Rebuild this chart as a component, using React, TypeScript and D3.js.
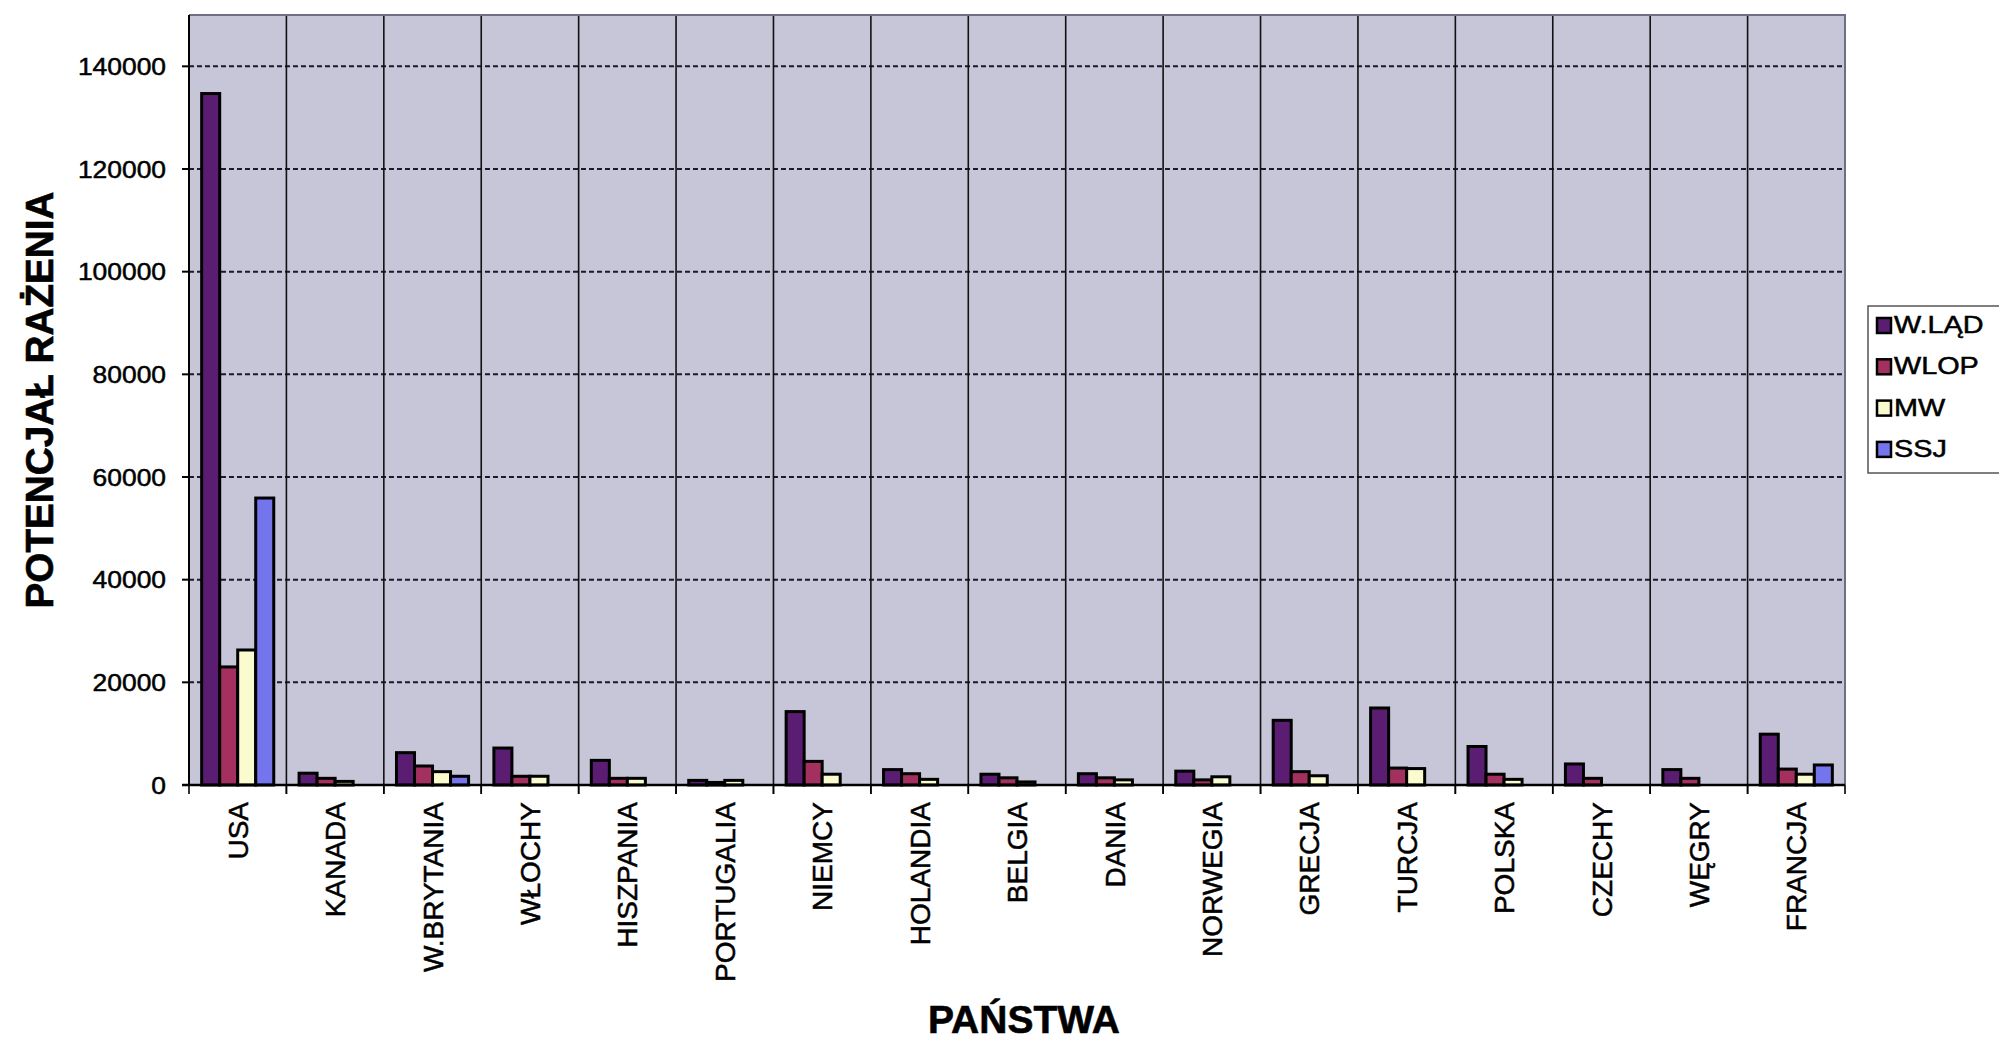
import * as d3 from "d3";
import { useEffect, useRef } from "react";

const countries = [
  "USA",
  "KANADA",
  "W.BRYTANIA",
  "WŁOCHY",
  "HISZPANIA",
  "PORTUGALIA",
  "NIEMCY",
  "HOLANDIA",
  "BELGIA",
  "DANIA",
  "NORWEGIA",
  "GRECJA",
  "TURCJA",
  "POLSKA",
  "CZECHY",
  "WĘGRY",
  "FRANCJA",
];

const seriesNames = ["W.LĄD", "WLOP", "MW", "SSJ"];

const wLad = [134700, 2300, 6300, 7200, 4800, 900, 14300, 3000, 2100, 2200, 2700, 12600, 15000, 7500, 4100, 3000, 9900];
const wlop = [23000, 1300, 3700, 1700, 1300, 500, 4600, 2200, 1400, 1400, 1000, 2600, 3300, 2100, 1300, 1300, 3100];
const mw = [26300, 700, 2600, 1700, 1300, 900, 2100, 1100, 600, 1000, 1600, 1800, 3200, 1100, 0, 0, 2100];
const ssj = [55900, 0, 1700, 0, 0, 0, 0, 0, 0, 0, 0, 0, 0, 0, 0, 0, 3900];

const yTicks = [0, 20000, 40000, 60000, 80000, 100000, 120000, 140000];

const colors = ["#5a1d72", "#a3305e", "#fbfbd0", "#7474ec"];

const App = () => {
  const svgRef = useRef<SVGSVGElement>(null);

  useEffect(() => {
    const svg = d3.select(svgRef.current);
    svg.selectAll("*").remove();

    const W = 1999;
    const H = 1040;
    const left = 189;
    const right = 1845;
    const top = 15;
    const bottom = 785;
    const font = "'Liberation Sans', Arial, sans-serif";
    const narrow = "'Liberation Sans Narrow', 'Liberation Sans', Arial, sans-serif";

    svg.attr("width", W).attr("height", H);
    svg.append("rect").attr("width", W).attr("height", H).attr("fill", "#fff");

    const values = [wLad, wlop, mw, ssj];
    const rows = countries.map((c, i) => ({
      country: c,
      vals: seriesNames.map((s, j) => ({ key: s, value: values[j][i], color: colors[j] })),
    }));

    const x0 = d3.scaleBand().domain(countries).range([left, right]).padding(0);
    const bw = x0.bandwidth();
    const off = bw * 0.13;
    const x1 = d3.scaleBand().domain(seriesNames).range([off, bw - off]).padding(0);
    const y = d3.scaleLinear().domain([0, 150000]).range([bottom, top]);

    // plot background
    svg
      .append("rect")
      .attr("x", left)
      .attr("y", top)
      .attr("width", right - left)
      .attr("height", bottom - top)
      .attr("fill", "#c6c6d8");

    // horizontal dashed grid
    svg
      .append("g")
      .selectAll("line")
      .data(yTicks.filter((d) => d > 0))
      .enter()
      .append("line")
      .attr("x1", left)
      .attr("x2", right)
      .attr("y1", (d) => y(d))
      .attr("y2", (d) => y(d))
      .attr("stroke", "#1a1a2a")
      .attr("stroke-width", 2)
      .attr("stroke-dasharray", "5,3");

    // vertical category lines
    svg
      .append("g")
      .selectAll("line")
      .data(countries.slice(1))
      .enter()
      .append("line")
      .attr("x1", (d) => x0(d)!)
      .attr("x2", (d) => x0(d)!)
      .attr("y1", top)
      .attr("y2", bottom + 9)
      .attr("stroke", "#111")
      .attr("stroke-width", 1.6);

    // plot border (top/right)
    svg
      .append("path")
      .attr("d", `M${left},${top}H${right}V${bottom}`)
      .attr("fill", "none")
      .attr("stroke", "#6e6e84")
      .attr("stroke-width", 2);

    // bars
    const groups = svg
      .append("g")
      .selectAll("g")
      .data(rows)
      .enter()
      .append("g")
      .attr("transform", (d) => `translate(${x0(d.country)},0)`);

    groups
      .selectAll("rect")
      .data((d) => d.vals.filter((v) => v.value > 0))
      .enter()
      .append("rect")
      .attr("x", (d) => x1(d.key)!)
      .attr("y", (d) => y(d.value))
      .attr("width", x1.bandwidth())
      .attr("height", (d) => bottom - y(d.value))
      .attr("fill", (d) => d.color)
      .attr("stroke", "#000")
      .attr("stroke-width", 3);

    // axes lines
    svg
      .append("line")
      .attr("x1", left)
      .attr("x2", left)
      .attr("y1", top)
      .attr("y2", bottom)
      .attr("stroke", "#000")
      .attr("stroke-width", 2);
    svg
      .append("line")
      .attr("x1", left - 7)
      .attr("x2", right)
      .attr("y1", bottom)
      .attr("y2", bottom)
      .attr("stroke", "#000")
      .attr("stroke-width", 2.5);

    // y ticks
    const yt = svg.append("g");
    yt.selectAll("line")
      .data(yTicks)
      .enter()
      .append("line")
      .attr("x1", left - 7)
      .attr("x2", left)
      .attr("y1", (d) => y(d))
      .attr("y2", (d) => y(d))
      .attr("stroke", "#000")
      .attr("stroke-width", 2);
    yt.selectAll("text")
      .data(yTicks)
      .enter()
      .append("text")
      .attr("transform", (d) => `translate(166,${y(d)}) scale(1.1,1)`)
      .attr("dy", "0.36em")
      .attr("text-anchor", "end")
      .attr("font-family", font)
      .attr("font-size", 24)
      .attr("fill", "#000")
      .attr("stroke", "#000")
      .attr("stroke-width", 0.5)
      .text((d) => String(d));

    // x ticks at band edges
    svg
      .append("g")
      .selectAll("line")
      .data([left, ...countries.slice(1).map((c) => x0(c)!), right])
      .enter()
      .append("line")
      .attr("x1", (d) => d)
      .attr("x2", (d) => d)
      .attr("y1", bottom)
      .attr("y2", bottom + 9)
      .attr("stroke", "#000")
      .attr("stroke-width", 1.6);

    // x labels
    svg
      .append("g")
      .selectAll("text")
      .data(countries)
      .enter()
      .append("text")
      .attr("transform", (d) => `translate(${x0(d)! + bw / 2},802) rotate(-90)`)
      .attr("dy", "0.36em")
      .attr("text-anchor", "end")
      .attr("font-family", font)
      .attr("font-size", 28)
      .attr("fill", "#000")
      .attr("stroke", "#000")
      .attr("stroke-width", 0.5)
      .text((d) => d);

    // axis titles
    svg
      .append("text")
      .attr("transform", "translate(39,400) rotate(-90)")
      .attr("dy", "0.36em")
      .attr("text-anchor", "middle")
      .attr("font-family", narrow)
      .attr("font-weight", "bold")
      .attr("font-size", 38)
      .attr("textLength", 417)
      .attr("lengthAdjust", "spacingAndGlyphs")
      .attr("stroke", "#000")
      .attr("stroke-width", 0.6)
      .text("POTENCJAŁ RAŻENIA");

    svg
      .append("text")
      .attr("x", 1024)
      .attr("y", 1033)
      .attr("text-anchor", "middle")
      .attr("font-family", narrow)
      .attr("font-weight", "bold")
      .attr("font-size", 39)
      .attr("textLength", 192)
      .attr("lengthAdjust", "spacingAndGlyphs")
      .attr("stroke", "#000")
      .attr("stroke-width", 0.6)
      .text("PAŃSTWA");

    // legend
    const lg = svg.append("g");
    lg.append("rect")
      .attr("x", 1868)
      .attr("y", 306)
      .attr("width", 200)
      .attr("height", 167)
      .attr("fill", "#fff")
      .attr("stroke", "#555")
      .attr("stroke-width", 1.5);

    const items = lg
      .selectAll("g.item")
      .data(seriesNames)
      .enter()
      .append("g")
      .attr("class", "item")
      .attr("transform", (d, i) => `translate(0,${333 + i * 41.3})`);

    items
      .append("rect")
      .attr("x", 1877)
      .attr("y", -15)
      .attr("width", 14)
      .attr("height", 15)
      .attr("fill", (d, i) => colors[i])
      .attr("stroke", "#000")
      .attr("stroke-width", 2.5);

    items
      .append("text")
      .attr("transform", "translate(1894,0) scale(1.2,1)")
      .attr("font-family", font)
      .attr("font-size", 24)
      .attr("fill", "#000")
      .attr("stroke", "#000")
      .attr("stroke-width", 0.5)
      .text((d) => d);
  }, []);

  return (
    <svg
      ref={svgRef}
      style={{ position: "absolute", left: 0, top: 0, display: "block" }}
    ></svg>
  );
};

export default App;
